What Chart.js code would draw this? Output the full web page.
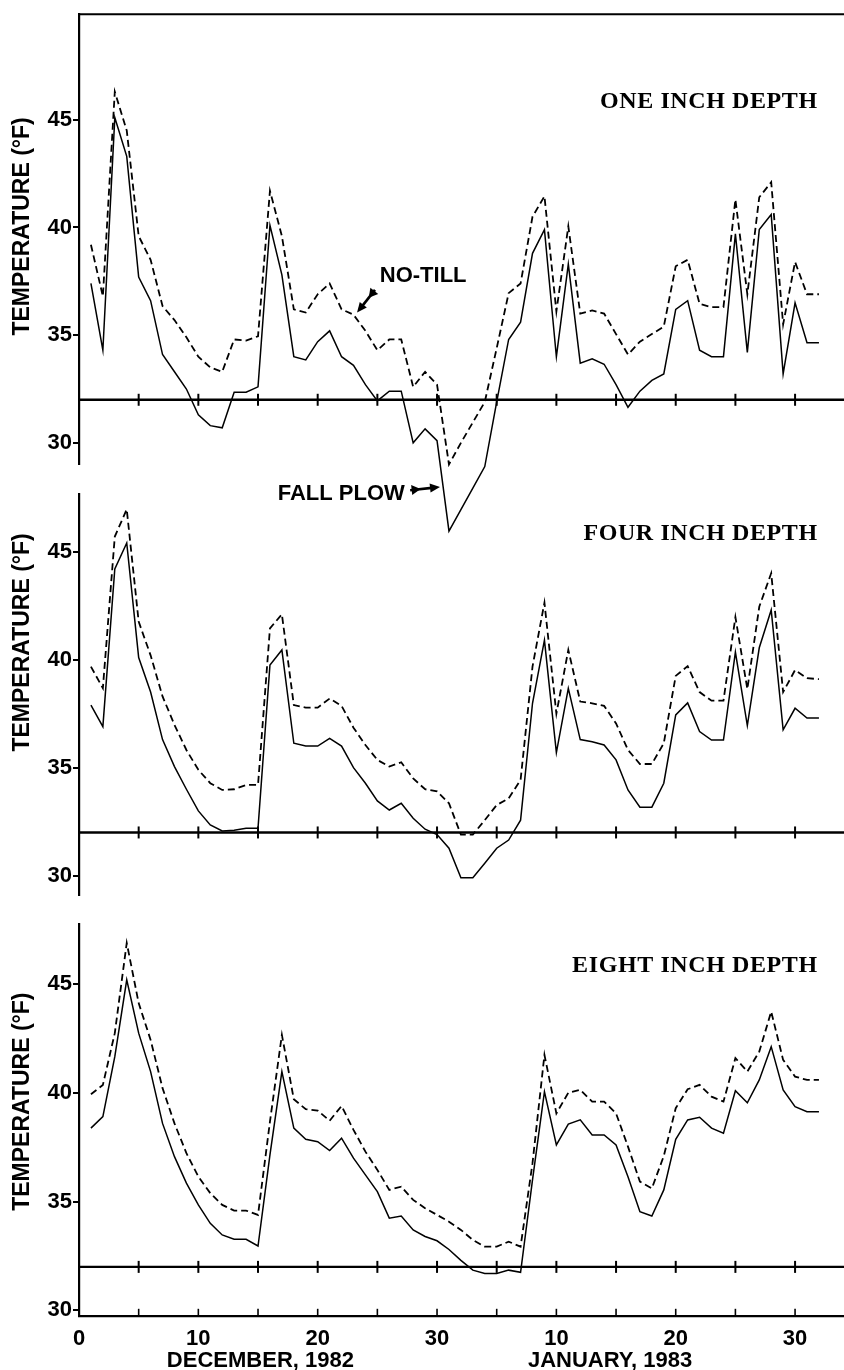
<!DOCTYPE html>
<html><head><meta charset="utf-8">
<script src="https://cdn.jsdelivr.net/npm/chart.js@4.4.1/dist/chart.umd.min.js"></script>
<style>
html,body{margin:0;padding:0;background:#fff;}
#wrap{position:relative;width:844px;height:1370px;overflow:hidden;background:#fff;}
canvas{position:absolute;left:0;display:block;}
</style></head><body>
<div id="wrap">
<canvas id="c1" width="844" height="560" style="top:0px"></canvas>
<canvas id="c2" width="844" height="440" style="top:470px"></canvas>
<canvas id="c3" width="844" height="470" style="top:900px"></canvas>
</div>
<script>
// ---- DATA ----
const days = [1,2,3,4,5,6,7,8,9,10,11,12,13,14,15,16,17,18,19,20,21,22,23,24,25,26,27,28,29,30,31,
  32,33,34,35,36,37,38,39,40,41,42,43,44,45,46,47,48,49,50,51,52,53,54,55,56,57,58,59,60,61,62];

const noTill1 = [39.2,36.8,46.3,44.5,39.6,38.5,36.35,35.7,34.9,34.0,33.5,33.3,34.8,34.75,34.95,41.7,39.6,36.2,36.05,36.9,37.4,36.2,35.95,35.2,34.3,34.8,34.8,32.6,33.3,32.7,29.0,
  30.0,30.95,31.9,34.4,36.95,37.4,40.5,41.45,36.1,40.05,36.0,36.15,36.0,35.05,34.1,34.7,35.05,35.4,38.2,38.5,36.45,36.3,36.3,41.3,36.9,41.4,42.1,35.5,38.4,36.9,36.9];
const fallPlow1 = [37.4,34.3,45.1,43.3,37.7,36.6,34.1,33.3,32.5,31.3,30.8,30.7,32.35,32.35,32.6,40.1,37.8,34.0,33.85,34.7,35.2,34.0,33.6,32.7,31.95,32.4,32.4,30.0,30.65,30.1,25.9,
  26.9,27.9,28.9,31.9,34.8,35.6,38.8,39.9,34.0,38.3,33.7,33.9,33.65,32.7,31.65,32.4,32.9,33.2,36.2,36.6,34.3,34.0,34.0,39.7,34.2,39.9,40.6,33.2,36.5,34.65,34.65];

const noTill4 = [39.68,38.68,45.7,46.96,41.76,40.2,38.3,36.98,35.82,34.9,34.28,33.97,34.0,34.2,34.2,41.45,42.1,37.9,37.78,37.78,38.2,37.86,36.85,36.05,35.36,35.05,35.25,34.5,34.0,33.9,33.35,
  31.9,31.9,32.57,33.27,33.58,34.43,39.68,42.64,37.5,40.45,38.06,37.98,37.86,37.05,35.82,35.17,35.17,36.13,39.25,39.7,38.5,38.1,38.1,41.97,38.64,42.45,44.0,38.5,39.52,39.14,39.1];
const fallPlow4 = [37.9,36.9,44.2,45.4,40.1,38.5,36.3,35.05,34.0,33.0,32.35,32.07,32.1,32.2,32.2,39.75,40.45,36.13,36.0,36.0,36.36,36.0,35.0,34.28,33.46,33.04,33.35,32.66,32.15,31.9,31.27,
  29.9,29.9,30.57,31.27,31.65,32.57,37.98,40.9,35.7,38.67,36.3,36.2,36.05,35.36,33.97,33.17,33.17,34.28,37.44,38.0,36.67,36.28,36.28,40.35,36.95,40.55,42.3,36.75,37.75,37.3,37.3];

const noTill8 = [39.94,40.37,42.75,46.9,44.13,42.44,40.22,38.6,37.23,36.15,35.39,34.85,34.59,34.59,34.39,38.68,42.67,39.71,39.25,39.19,38.72,39.4,38.3,37.3,36.46,35.54,35.69,35.08,34.7,34.39,34.08,
  33.7,33.24,32.93,32.93,33.16,32.93,36.77,41.75,39.06,40.01,40.14,39.6,39.6,39.06,37.53,35.92,35.61,37.1,39.3,40.17,40.37,39.83,39.6,41.6,40.98,41.9,43.74,41.52,40.75,40.6,40.6];
const fallPlow8 = [38.38,38.91,41.67,45.2,42.75,40.98,38.6,37.07,35.85,34.85,34.0,33.47,33.27,33.27,32.96,37.15,40.98,38.38,37.87,37.76,37.35,37.92,37.0,36.23,35.46,34.24,34.34,33.7,33.4,33.2,32.8,
  32.3,31.85,31.7,31.7,31.85,31.75,36.0,40.06,37.61,38.57,38.76,38.07,38.07,37.61,36.15,34.54,34.34,35.54,37.87,38.76,38.88,38.38,38.15,40.1,39.55,40.6,42.13,40.14,39.37,39.14,39.14];

const yTickValues = [30,35,40,45];
const xLabelValues = [0,10,20,30,40,50,60];
const xLabelTexts = ['0','10','20','30','10','20','30'];
const tickMarkValues = [5,10,15,20,25,30,35,40,45,50,55,60];
const freezing = 32;
const panelTitles = ['ONE INCH DEPTH','FOUR INCH DEPTH','EIGHT INCH DEPTH'];
const yTitle = 'TEMPERATURE (\u00B0F)';
const monthLabels = ['DECEMBER, 1982','JANUARY, 1983'];

// ---- STYLE / LAYOUT ----
const SANS = '"Liberation Sans", Arial, Helvetica, sans-serif';
const SERIF = '"Liberation Serif", "Times New Roman", serif';
const X_MAX = 64.1;
const AXIS_W = 79;

function pts(vals){ return days.map((d,i)=>({x:d,y:vals[i]})); }

function arrow(ctx, x0, y0, x1, y1){
  const ang = Math.atan2(y1-y0, x1-x0);
  ctx.lineWidth = 2.6;
  ctx.beginPath(); ctx.moveTo(x0,y0); ctx.lineTo(x1 - 6*Math.cos(ang), y1 - 6*Math.sin(ang)); ctx.stroke();
  const head = (tx,ty,len,w)=>{
    ctx.beginPath();
    ctx.moveTo(tx,ty);
    ctx.lineTo(tx - len*Math.cos(ang) + w*Math.sin(ang), ty - len*Math.sin(ang) - w*Math.cos(ang));
    ctx.lineTo(tx - len*Math.cos(ang) - w*Math.sin(ang), ty - len*Math.sin(ang) + w*Math.cos(ang));
    ctx.closePath(); ctx.fill();
  };
  head(x1,y1,10,4.5);
  const mx = x0 + 0.35*(x1-x0), my = y0 + 0.35*(y1-y0);
  head(mx,my,9,5);
}

const deco = {
  id:'deco',
  afterDatasetsDraw(chart, args, o){
    const {ctx, chartArea:a, scales:{x,y}} = chart;
    ctx.save();
    ctx.strokeStyle = '#000'; ctx.fillStyle = '#000';
    // freezing line with tick marks
    const y32 = y.getPixelForValue(freezing);
    ctx.lineWidth = 2.4;
    ctx.beginPath(); ctx.moveTo(a.left, y32); ctx.lineTo(a.right, y32); ctx.stroke();
    ctx.lineWidth = 2;
    tickMarkValues.forEach(v=>{
      const px = x.getPixelForValue(v);
      ctx.beginPath(); ctx.moveTo(px, y32-6); ctx.lineTo(px, y32+6); ctx.stroke();
    });
    if (o.topBorder){
      ctx.lineWidth = 2;
      ctx.beginPath(); ctx.moveTo(a.left-1, a.top); ctx.lineTo(a.right, a.top); ctx.stroke();
    }
    if (o.bottomTicks){
      ctx.lineWidth = 1.6;
      tickMarkValues.forEach(v=>{
        const px = x.getPixelForValue(v);
        ctx.beginPath(); ctx.moveTo(px, a.bottom); ctx.lineTo(px, a.bottom-7); ctx.stroke();
      });
      ctx.font = 'bold 22px ' + SANS;
      ctx.textAlign = 'center'; ctx.textBaseline = 'middle';
      ctx.fillText(monthLabels[0], x.getPixelForValue(o.monthAt[0]), a.bottom + 45);
      ctx.fillText(monthLabels[1], x.getPixelForValue(o.monthAt[1]), a.bottom + 45);
    }
    // panel title
    ctx.font = 'bold 24px ' + SERIF;
    ctx.textAlign = 'right'; ctx.textBaseline = 'middle';
    if ('letterSpacing' in ctx) ctx.letterSpacing = '0.6px';
    ctx.fillText(o.title, x.getPixelForValue(61.9), y.getPixelForValue(45.85));
    if ('letterSpacing' in ctx) ctx.letterSpacing = '0px';
    // annotations
    if (o.notes){
      ctx.font = 'bold 22px ' + SANS;
      o.notes.forEach(n=>{
        ctx.textAlign = n.align; ctx.textBaseline = 'middle';
        ctx.fillText(n.text, x.getPixelForValue(n.at[0]), y.getPixelForValue(n.at[1]));
        arrow(ctx, x.getPixelForValue(n.from[0]), y.getPixelForValue(n.from[1]),
                   x.getPixelForValue(n.to[0]), y.getPixelForValue(n.to[1]));
      });
    }
    // y title
    ctx.translate(23, y.getPixelForValue(o.yTitleAt));
    ctx.rotate(-Math.PI/2);
    ctx.font = 'bold 23px ' + SANS;
    ctx.textAlign = 'center'; ctx.textBaseline = 'middle';
    ctx.fillText(yTitle, 0, 0);
    ctx.restore();
  }
};

function makePanel(id, cfg){
  const showX = !!cfg.showX;
  return new Chart(document.getElementById(id), {
    type:'line',
    data:{ datasets:[
      {label:'No-till', data:pts(cfg.noTill), borderColor:'#000', borderWidth:1.8, borderDash:[7,4],
       pointRadius:0, tension:0, fill:false, clip:false},
      {label:'Fall plow', data:pts(cfg.fallPlow), borderColor:'#000', borderWidth:1.5,
       pointRadius:0, tension:0, fill:false, clip:false}
    ]},
    options:{
      responsive:false, animation:false, devicePixelRatio:1,
      layout:{padding:{top:cfg.padTop, bottom:cfg.padBottom, left:0, right:0}},
      plugins:{legend:{display:false}, tooltip:{enabled:false}, deco:cfg.deco},
      scales:{
        x:{type:'linear', min:0, max:X_MAX, display:showX,
           afterBuildTicks:s=>{ s.ticks = xLabelValues.map(v=>({value:v})); },
           afterFit:s=>{ if(showX) s.height = cfg.xHeight; },
           grid:{display:false, drawTicks:false},
           border:{display:true, color:'#000', width:2.2},
           ticks:{padding:10, color:'#000', maxRotation:0, autoSkip:false,
                  font:{family:SANS, size:22, weight:'bold'},
                  callback:(v)=>{ const i = xLabelValues.indexOf(v); return i>=0 ? xLabelTexts[i] : ''; }}},
        y:{type:'linear', min:cfg.yMin, max:cfg.yMax,
           afterBuildTicks:s=>{ s.ticks = yTickValues.map(v=>({value:v})); },
           afterFit:s=>{ s.width = AXIS_W; },
           grid:{display:true, drawOnChartArea:false, drawTicks:true, tickLength:6, color:'#000', lineWidth:2},
           border:{display:true, color:'#000', width:2.2},
           ticks:{padding:1, color:'#000', font:{family:SANS, size:22, weight:'bold'}}}
      }
    },
    plugins:[deco]
  });
}

makePanel('c1', {noTill:noTill1, fallPlow:fallPlow1, yMin:29.0, yMax:49.9, padTop:12.5, padBottom:95.6,
  deco:{title:panelTitles[0], topBorder:true, yTitleAt:40.05,
    notes:[
      {text:'NO-TILL', align:'left', at:[25.2,37.75], from:[24.8,37.1], to:[23.3,36.05]},
      {text:'FALL PLOW', align:'right', at:[27.3,27.65], from:[27.75,27.8], to:[30.25,27.95]}
    ]}});
makePanel('c2', {noTill:noTill4, fallPlow:fallPlow4, yMin:29.1, yMax:47.67, padTop:24, padBottom:14.9,
  deco:{title:panelTitles[1], yTitleAt:40.8}});
makePanel('c3', {noTill:noTill8, fallPlow:fallPlow8, yMin:29.75, yMax:47.77, padTop:24, padBottom:0,
  showX:true, xHeight:54.2,
  deco:{title:panelTitles[2], yTitleAt:39.6, bottomTicks:true, monthAt:[15.2,44.5]}});
</script>
</body></html>
